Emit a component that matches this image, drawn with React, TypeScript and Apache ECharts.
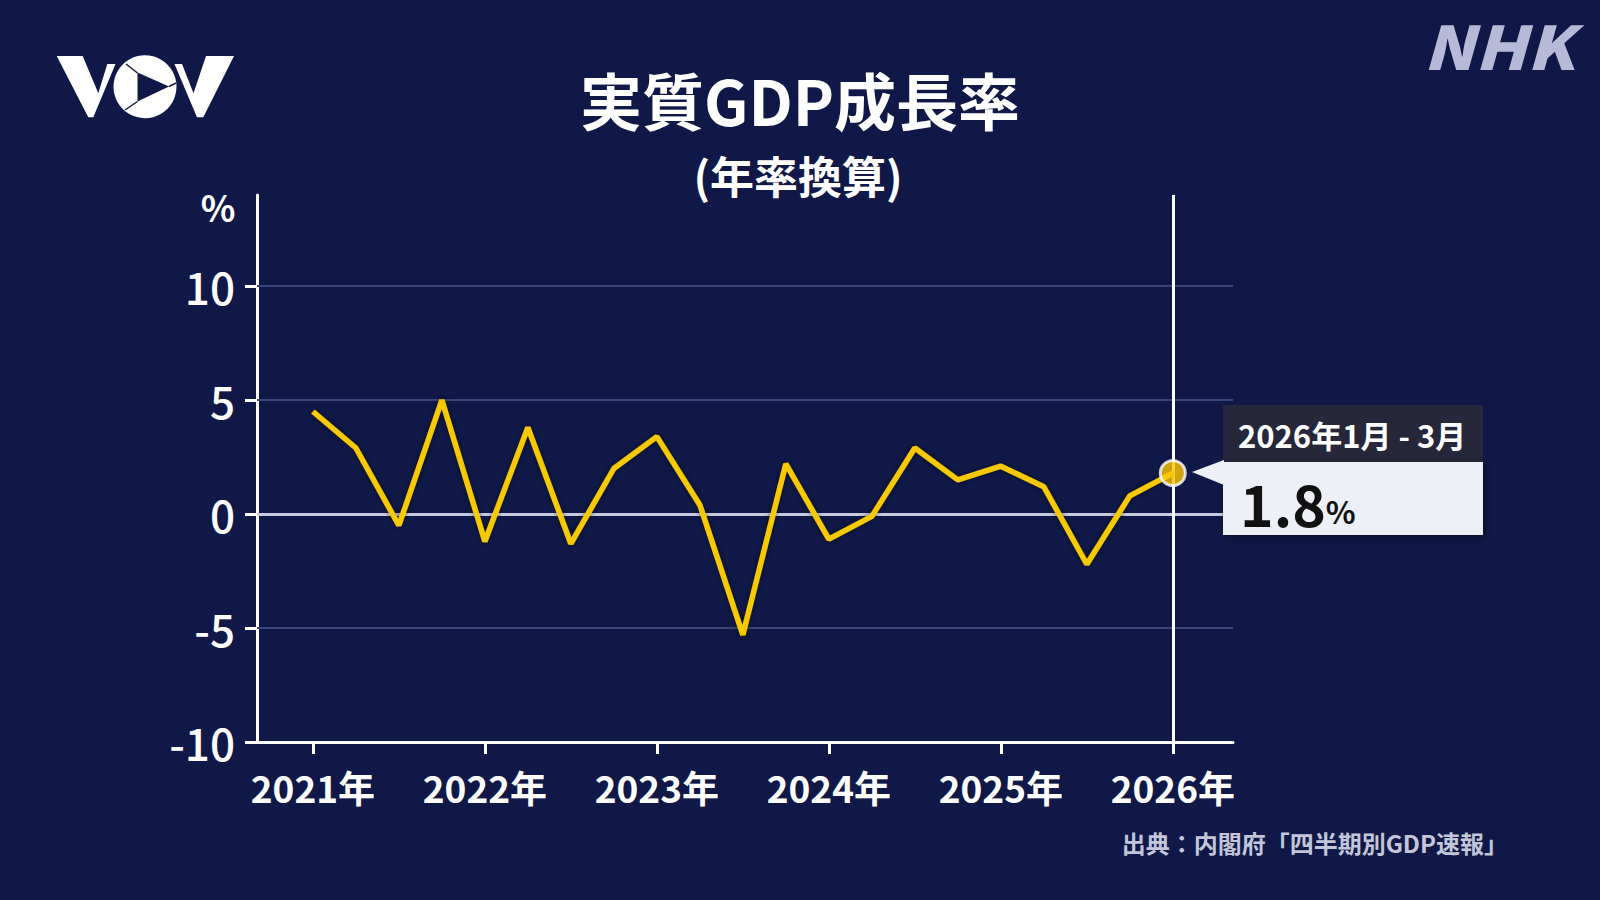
import React, { useEffect, useRef } from "react";
import * as echarts from "echarts";

// ---- data ----
const quarterLabels = [
  "2021年1月 - 3月", "2021年4月 - 6月", "2021年7月 - 9月", "2021年10月 - 12月",
  "2022年1月 - 3月", "2022年4月 - 6月", "2022年7月 - 9月", "2022年10月 - 12月",
  "2023年1月 - 3月", "2023年4月 - 6月", "2023年7月 - 9月", "2023年10月 - 12月",
  "2024年1月 - 3月", "2024年4月 - 6月", "2024年7月 - 9月", "2024年10月 - 12月",
  "2025年1月 - 3月", "2025年4月 - 6月", "2025年7月 - 9月", "2025年10月 - 12月",
  "2026年1月 - 3月",
];
const growthValues = [
  4.5, 2.9, -0.5, 5.0, -1.2, 3.8, -1.3, 2.0, 3.4, 0.4, -5.3,
  2.2, -1.1, -0.1, 2.9, 1.5, 2.1, 1.2, -2.2, 0.8, 1.8,
];
const yearLabels = ["2021年", "2022年", "2023年", "2024年", "2025年", "2026年"];
const yearTickIndex = [0, 4, 8, 12, 16, 20];
const yTickValues = [-10, -5, 0, 5, 10];
const gridValues = [10, 5, -5];

const FONT = '"Noto Sans CJK JP", "Noto Sans", sans-serif';
const BG = "#0f1846";

export default function App() {
  const ref = useRef<HTMLDivElement>(null);

  useEffect(() => {
    if (!ref.current) return;
    const chart = echarts.init(ref.current, null, { renderer: "svg" });
    const lastIdx = growthValues.length - 1;
    const lastVal = growthValues[lastIdx];
    const lineData = growthValues.map((v, i) => [i, v]);

    const option: any = {
      animation: false,
      backgroundColor: BG,
      textStyle: { fontFamily: FONT },
      grid: { left: 257, right: 367, top: 195, bottom: 158 },
      xAxis: {
        type: "value",
        min: -1.3,
        max: 21.4,
        axisLine: { show: true, onZero: false, lineStyle: { color: "#ffffff", width: 3 } },
        axisTick: {
          show: true,
          customValues: yearTickIndex,
          length: 12,
          lineStyle: { color: "#ffffff", width: 3 },
        },
        axisLabel: {
          customValues: yearTickIndex,
          formatter: (v: number) => yearLabels[yearTickIndex.indexOf(Math.round(v))] ?? "",
          color: "#ffffff",
          fontSize: 37,
          fontWeight: "bold",
          fontFamily: FONT,
          margin: 26,
        },
        splitLine: { show: false },
      },
      yAxis: {
        type: "value",
        min: -10,
        max: 14,
        axisLine: { show: true, onZero: false, lineStyle: { color: "#ffffff", width: 3 } },
        axisTick: {
          show: true,
          customValues: yTickValues,
          length: 12,
          lineStyle: { color: "#ffffff", width: 3 },
        },
        axisLabel: {
          customValues: yTickValues,
          color: "#ffffff",
          fontSize: 44,
          fontWeight: 500,
          fontFamily: FONT,
          margin: 22,
        },
        splitLine: { show: false },
      },
      series: [
        {
          type: "line",
          data: lineData,
          symbol: "none",
          z: 5,
          lineStyle: {
            color: "#f7c900",
            width: 5.5,
            shadowColor: "rgba(0,0,0,0.55)",
            shadowBlur: 5,
          },
          markLine: {
            silent: true,
            symbol: "none",
            label: { show: false },
            z: 1,
            data: [
              ...gridValues.map((g) => ({
                yAxis: g,
                lineStyle: { color: "#3b4478", width: 2, type: "solid" },
              })),
              { yAxis: 0, lineStyle: { color: "#c9cce0", width: 3, type: "solid" } },
              { xAxis: lastIdx, lineStyle: { color: "#ffffff", width: 3, type: "solid" } },
            ],
          },
        },
        {
          type: "scatter",
          data: [[lastIdx, lastVal]],
          symbol: "circle",
          symbolSize: 25,
          z: 10,
          itemStyle: { color: "#ffc800", borderColor: "#ffffff", borderWidth: 3 },
        },
      ],
      graphic: [
        // title
        {
          type: "text",
          x: 800,
          y: 99,
          style: {
            text: "実質GDP成長率",
            fill: "#ffffff",
            font: `bold 62px ${FONT}`,
            align: "center",
            verticalAlign: "middle",
          },
        },
        {
          type: "text",
          x: 798,
          y: 175,
          style: {
            text: "(年率換算)",
            fill: "#ffffff",
            font: `bold 44px ${FONT}`,
            align: "center",
            verticalAlign: "middle",
          },
        },
        // % unit
        {
          type: "text",
          x: 218,
          y: 206,
          style: {
            text: "%",
            fill: "#ffffff",
            font: `bold 36px ${FONT}`,
            align: "center",
            verticalAlign: "middle",
          },
        },
        // callout
        {
          type: "rect",
          shape: { x: 1223, y: 405, width: 260, height: 57 },
          style: { fill: "#26273a" },
          z: 20,
        },
        {
          type: "rect",
          shape: { x: 1223, y: 462, width: 260, height: 73 },
          style: {
            fill: "#eef0f7",
            shadowColor: "rgba(0,0,0,0.45)",
            shadowBlur: 6,
            shadowOffsetX: 2,
            shadowOffsetY: 2,
          },
          z: 20,
        },
        {
          type: "polygon",
          shape: { points: [[1192, 472], [1224, 460], [1224, 485]] },
          style: { fill: "#eef0f7" },
          z: 21,
        },
        {
          type: "text",
          x: 1238,
          y: 434,
          z: 22,
          style: {
            text: quarterLabels[lastIdx],
            fill: "#ffffff",
            font: `bold 31px ${FONT}`,
            verticalAlign: "middle",
          },
        },
        {
          type: "text",
          x: 1240,
          y: 530,
          z: 22,
          style: {
            text: `{v|${lastVal.toFixed(1)}}{p|%}`,
            verticalAlign: "bottom",
            rich: {
              v: { fontSize: 57, fontWeight: "bold", fill: "#111111", color: "#111111", fontFamily: FONT, verticalAlign: "bottom", lineHeight: 62 },
              p: { fontSize: 31, fontWeight: "bold", fill: "#111111", color: "#111111", fontFamily: FONT, verticalAlign: "bottom", lineHeight: 40, padding: [0, 0, 4, 0] },
            },
          },
        },
        // source
        {
          type: "text",
          x: 1508,
          y: 842,
          style: {
            text: "出典：内閣府「四半期別GDP速報」",
            fill: "#c3c6d8",
            font: `bold 24px ${FONT}`,
            align: "right",
            verticalAlign: "middle",
          },
        },
        // NHK logo
        {
          type: "text",
          x: 1574,
          y: 44,
          scaleX: 1.12,
          style: {
            text: "NHK",
            fill: "#b7bad6",
            font: `italic 900 60px ${FONT}`,
            align: "right",
            verticalAlign: "middle",
          },
        },
        // VOV logo
        {
          type: "group",
          children: [
            {
              type: "polygon",
              shape: {
                points: [[56.7, 56], [82.7, 56], [98.3, 93.3], [107.3, 64], [115.5, 64], [93.3, 117.3], [88.3, 117.3]],
              },
              style: { fill: "#ffffff" },
            },
            {
              type: "circle",
              shape: { cx: 145, cy: 86.7, r: 31.5 },
              style: { fill: "#ffffff" },
            },
            {
              type: "polygon",
              shape: { points: [[137.5, 72.5], [137.5, 101.5], [169, 86.5]] },
              style: { fill: BG },
            },
            {
              type: "line",
              shape: { x1: 126, y1: 64, x2: 137.5, y2: 73 },
              style: { stroke: BG, lineWidth: 1.5 },
            },
            {
              type: "line",
              shape: { x1: 169, y1: 86.5, x2: 176, y2: 83 },
              style: { stroke: BG, lineWidth: 1.5 },
            },
            {
              type: "line",
              shape: { x1: 137.5, y1: 101.5, x2: 125, y2: 110 },
              style: { stroke: BG, lineWidth: 1.5 },
            },
            {
              type: "polygon",
              shape: {
                points: [[174.5, 64], [182, 64], [193.5, 93.3], [206, 56], [234, 56], [203.3, 117.3], [197, 117.3]],
              },
              style: { fill: "#ffffff" },
            },
          ],
        },
      ],
    };

    chart.setOption(option);
    return () => chart.dispose();
  }, []);

  return (
    <div
      ref={ref}
      style={{
        position: "absolute",
        left: 0,
        top: 0,
        width: 1600,
        height: 900,
        background: BG,
      }}
    />
  );
}
